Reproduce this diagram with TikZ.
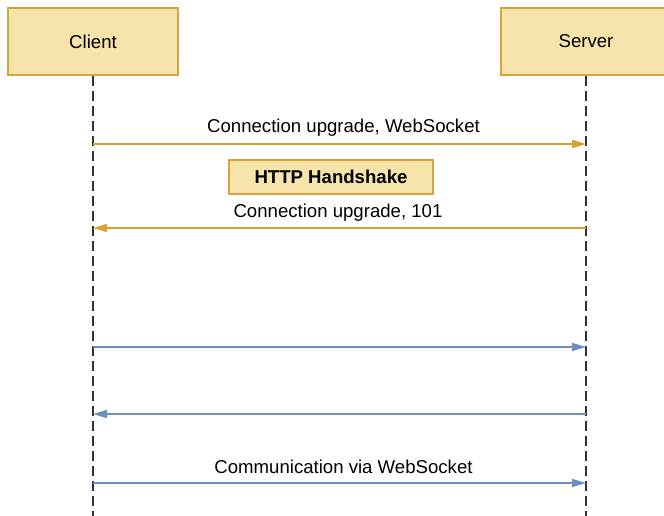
\documentclass[tikz,border=0pt]{standalone}
\usepackage{fontspec}
\setmainfont{Liberation Sans}
\usetikzlibrary{arrows.meta}
\definecolor{boxfill}{HTML}{F6E4AA}
\definecolor{boxline}{HTML}{D9A33C}
\definecolor{orangearrow}{HTML}{D9A030}
\definecolor{bluearrow}{HTML}{6C8EBF}
\definecolor{lifegray}{HTML}{333333}
\begin{document}
\begin{tikzpicture}[x=1pt,y=-1pt,
  actor/.style={draw=boxline,fill=boxfill,line width=1.2pt,minimum width=170pt,minimum height=67pt,inner sep=0pt,font=\fontsize{18.6}{22}\selectfont},
  notebox/.style={draw=boxline,fill=boxfill,line width=1.2pt,minimum width=204pt,minimum height=34pt,inner sep=0pt,font=\fontsize{18.6}{22}\selectfont\bfseries},
  lifeline/.style={draw=lifegray,line width=1.4pt,dash pattern=on 10pt off 5pt},
  msgO/.style={draw=orangearrow,line width=1.4pt,-{Triangle[length=14pt,width=8pt]}},
  msgB/.style={draw=bluearrow,line width=1.4pt,-{Triangle[length=14pt,width=8pt]}},
  lbl/.style={font=\fontsize{18.6}{22}\selectfont,inner sep=0pt,text=black}]
\useasboundingbox (0,0) rectangle (664,516);
\clip (0,0) rectangle (664,516);
\fill[white] (0,0) rectangle (664,516);
\node[actor] (client) at (93,41.5) {Client};
\node[actor] (server) at (586,41.5) {Server};
\coordinate (cend) at (93,520);
\coordinate (send) at (586,520);
\draw[lifeline] (client.south) -- (cend);
\draw[lifeline] (server.south) -- (send);
\coordinate (c1) at (93,144); \coordinate (s1) at (586,144);
\coordinate (c2) at (93,228); \coordinate (s2) at (586,228);
\coordinate (c3) at (93,347); \coordinate (s3) at (586,347);
\coordinate (c4) at (93,414); \coordinate (s4) at (586,414);
\coordinate (c5) at (93,483); \coordinate (s5) at (586,483);
\draw[msgO] (c1) -- (s1);
\node[lbl] (l1) at (343.5,128) {Connection upgrade, WebSocket};
\node[notebox] (hs) at (331,177) {HTTP Handshake};
\draw[msgO] (s2) -- (c2);
\node[lbl] (l2) at (338,213) {Connection upgrade, 101};
\draw[msgB] (c3) -- (s3);
\draw[msgB] (s4) -- (c4);
\draw[msgB] (c5) -- (s5);
\node[lbl] (l5) at (343.5,467) {Communication via WebSocket};
\end{tikzpicture}
\end{document}
